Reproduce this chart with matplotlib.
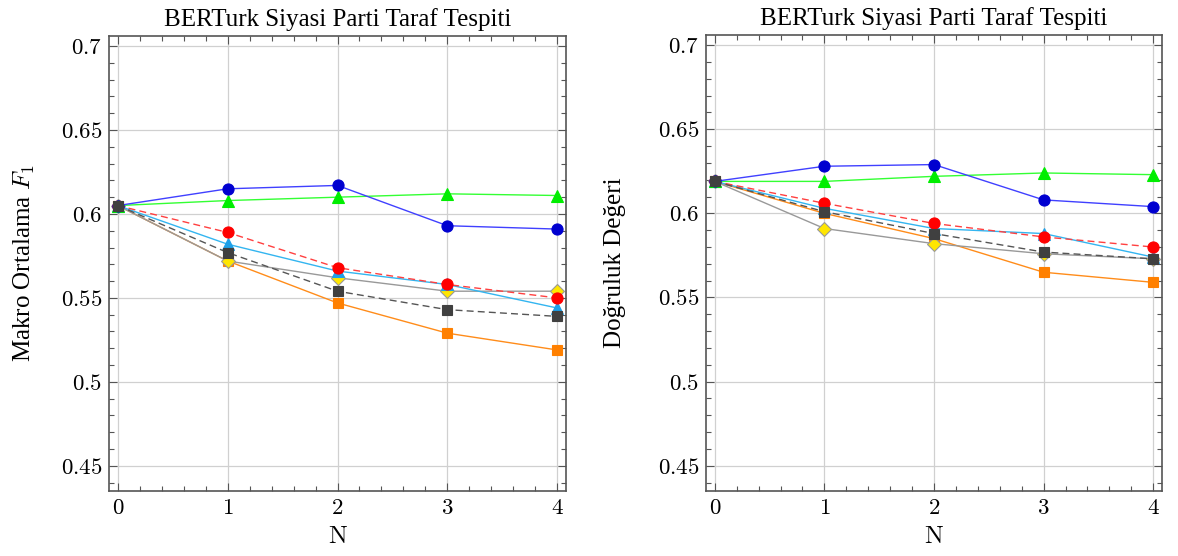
import matplotlib
matplotlib.use("Agg")
import matplotlib.pyplot as plt
from matplotlib.ticker import MultipleLocator, FuncFormatter

plt.rcParams['mathtext.fontset'] = 'cm'
plt.rcParams['font.family'] = ['Liberation Serif', 'DejaVu Serif']

N = [0, 1, 2, 3, 4]

# Left: Makro Ortalama F1
f1_blue   = [0.605, 0.615, 0.617, 0.593, 0.591]
f1_green  = [0.605, 0.608, 0.610, 0.612, 0.611]
f1_red    = [0.605, 0.589, 0.568, 0.558, 0.550]
f1_cyan   = [0.605, 0.582, 0.566, 0.558, 0.544]
f1_yellow = [0.605, 0.572, 0.562, 0.554, 0.554]
f1_dark   = [0.605, 0.577, 0.554, 0.543, 0.539]
f1_orange = [0.605, 0.572, 0.547, 0.529, 0.519]

# Right: Doğruluk Değeri
acc_blue   = [0.619, 0.628, 0.629, 0.608, 0.604]
acc_green  = [0.619, 0.619, 0.622, 0.624, 0.623]
acc_red    = [0.619, 0.606, 0.594, 0.586, 0.580]
acc_cyan   = [0.619, 0.603, 0.591, 0.588, 0.574]
acc_yellow = [0.619, 0.591, 0.582, 0.576, 0.573]
acc_dark   = [0.619, 0.601, 0.588, 0.577, 0.573]
acc_orange = [0.619, 0.600, 0.585, 0.565, 0.559]

title = "BERTurk Siyasi Parti Taraf Tespiti"
ylabels = ["Makro Ortalama $F_1$", "Doğruluk Değeri"]
ylabelpads = [17, 23]
yticks = [0.45, 0.5, 0.55, 0.6, 0.65, 0.7]

# drawing order: orange, yellow, cyan, red, green, blue, dark
styles = [
    # (line color, ls, marker, face, edge, size)
    ('#ff8c1a', '-', 's', '#ff8000', '#ff8000', 7.5),
    ('#999999', '-', 'D', '#ffe600', '#999999', 7),
    ('#33b5f0', '-', '^', '#1ea0e8', '#1ea0e8', 9),
    ('#ff4040', '--', 'o', '#ff0000', '#ff0000', 8),
    ('#33ff33', '-', '^', '#00ee00', '#00ee00', 9),
    ('#4040ff', '-', 'o', '#0000d0', '#0000d0', 8),
    ('#555555', '--', 's', '#404040', '#404040', 7.5),
]

fig = plt.figure(figsize=(11.78, 5.56), dpi=100)
W, H = 1178, 556
boxes = [(109, 36, 566, 491), (706, 35, 1162, 491)]
datasets = [
    [f1_orange, f1_yellow, f1_cyan, f1_red, f1_green, f1_blue, f1_dark],
    [acc_orange, acc_yellow, acc_cyan, acc_red, acc_green, acc_blue, acc_dark],
]

for (x0, y0, x1, y1), data, ylab, lp in zip(boxes, datasets, ylabels, ylabelpads):
    ax = fig.add_axes([x0 / W, 1 - y1 / H, (x1 - x0) / W, (y1 - y0) / H])
    for vals, (lc, ls, mk, fc, ec, ms) in zip(data, styles):
        kw = dict(dashes=(5, 3)) if ls == '--' else {}
        ax.plot(N, vals, color=lc, ls=ls, lw=1.0, marker=mk, mfc=fc, mec=ec,
                ms=ms, mew=0.8, **kw)
    ax.set_xlim(-0.08, 4.08)
    ax.set_ylim(0.435, 0.706)
    ax.set_xticks(N)
    ax.set_yticks(yticks)
    ax.xaxis.set_minor_locator(MultipleLocator(0.2))
    ax.yaxis.set_minor_locator(MultipleLocator(0.01))
    ax.xaxis.set_major_formatter(FuncFormatter(lambda v, p: f"${v:g}$"))
    ax.yaxis.set_major_formatter(FuncFormatter(lambda v, p: f"${v:g}$"))
    ax.tick_params(which='both', direction='in', top=True, right=True,
                   color='#555555', labelsize=16.5, width=0.8)
    ax.tick_params(which='major', length=6, pad=5)
    ax.tick_params(which='minor', length=3.5)
    ax.grid(True, which='major', color='#d0d0d0', lw=0.9)
    ax.set_axisbelow(True)
    for s in ax.spines.values():
        s.set_color('#555555')
        s.set_linewidth(1.2)
    ax.set_title(title, fontsize=18, pad=7)
    ax.set_xlabel("$\\mathrm{N}$", fontsize=18, labelpad=5)
    ax.set_ylabel(ylab, fontsize=18, labelpad=lp)

fig.savefig("out.png", dpi=100)
